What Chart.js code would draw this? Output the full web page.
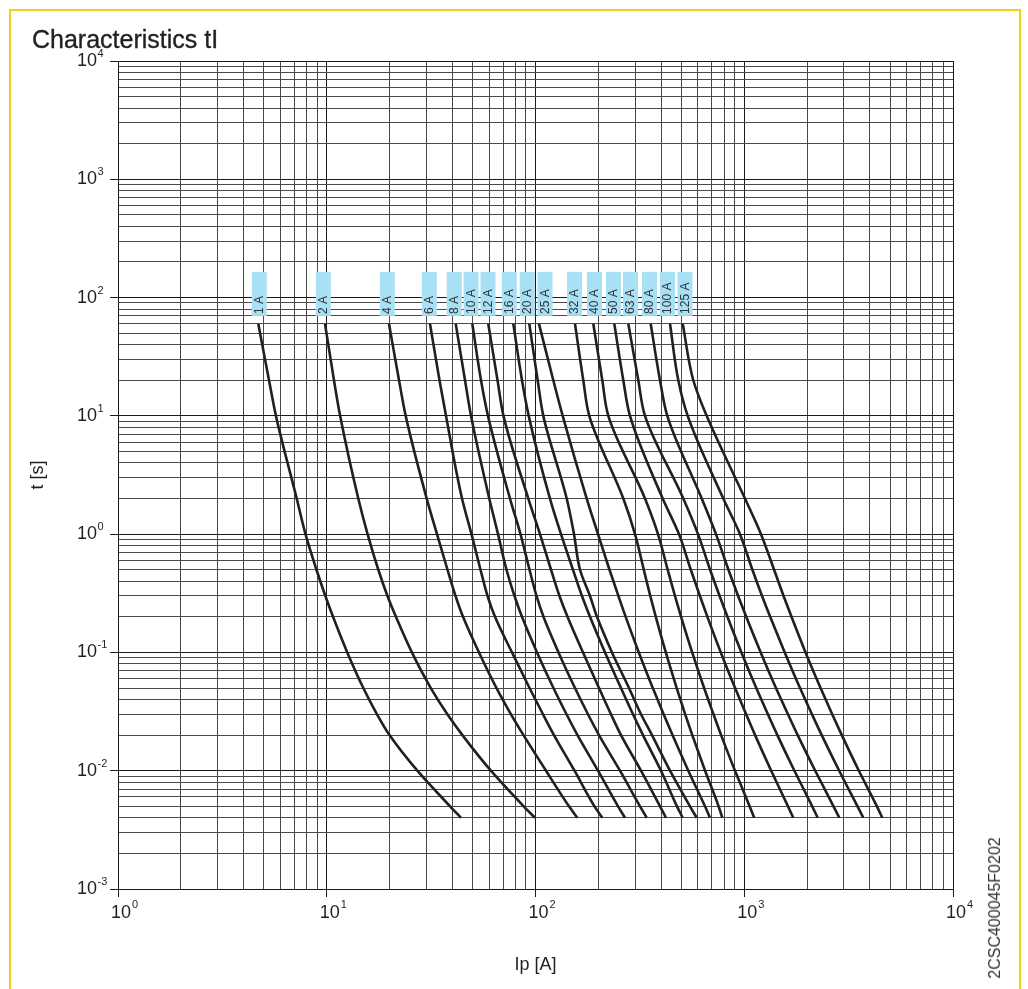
<!DOCTYPE html>
<html>
<head>
<meta charset="utf-8">
<script src="https://cdn.jsdelivr.net/npm/chart.js@4.4.1/dist/chart.umd.min.js"></script>
<style>
html,body{margin:0;padding:0;background:#fff;}
#wrap{position:relative;width:1028px;height:989px;overflow:hidden;background:#fff;}
#frame{position:absolute;left:9px;top:9px;width:1008px;height:1000px;border:2px solid #f5cf12;border-bottom:none;}
#title{position:absolute;left:32px;top:25px;font:25px "Liberation Sans",Arial,sans-serif;color:#231f20;white-space:nowrap;-webkit-text-stroke:0.35px #231f20;}
#code{position:absolute;left:995px;top:908px;transform:translate(-50%,-50%) rotate(-90deg);font:16px "Liberation Sans",Arial,sans-serif;color:#333;white-space:nowrap;}
canvas{position:absolute;left:0;top:0;}
</style>
</head>
<body>
<div id="wrap">
  <div id="frame"></div>
  <canvas id="c" width="1028" height="989"></canvas>
  <div id="title">Characteristics tI</div>
  <div id="code">2CSC400045F0202</div>
</div>
<script>
// ---- data (pre-arcing time t in s, prospective current Ip in A) ----
const tPoints = [60, 20, 10, 2, 1, 0.5, 0.3, 0.2, 0.1, 0.05, 0.03, 0.02, 0.01, 0.005, 0.004];

const fuseNames = ['1 A','2 A','4 A','6 A','8 A','10 A','12 A','16 A','20 A','25 A','32 A','40 A','50 A','63 A','80 A','100 A','125 A'];

const fuse1A   = [4.70, 5.29, 5.71, 7.18, 7.91, 8.93, 9.85, 10.72, 12.54, 14.97, 17.41, 19.98, 27.16, 38.99, 43.97];
const fuse2A   = [9.81, 10.83, 11.59, 14.16, 15.69, 17.66, 19.54, 21.45, 25.58, 31.51, 37.84, 44.66, 61.15, 87.80, 99.45];
const fuse4A   = [19.87, 22.19, 23.89, 30.12, 33.74, 37.88, 41.39, 44.96, 53.62, 65.06, 76.32, 87.59, 112.3, 144.7, 158.6];
const fuse6A   = [31.23, 34.68, 37.26, 44.46, 49.37, 54.52, 58.92, 63.97, 77.16, 93.61, 108.6, 122.6, 153.8, 191.7, 208.9];
const fuse8A   = [41.48, 45.95, 49.10, 60.05, 66.14, 72.62, 79.32, 86.16, 101.7, 121.9, 140.8, 158.9, 199.3, 248.5, 268.4];
const fuse10A  = [49.81, 54.82, 59.20, 75.47, 84.75, 93.61, 101.1, 109.2, 128.9, 154.6, 178.4, 201.5, 254.0, 316.7, 341.0];
const fuse12A  = [59.39, 65.77, 70.26, 92.38, 105.1, 118.7, 130.3, 142.3, 168.9, 201.5, 229.9, 256.8, 320.2, 394.8, 421.8];
const fuse16A  = [78.29, 86.16, 92.78, 117.3, 132.5, 151.2, 167.0, 182.4, 215.3, 256.8, 293.2, 327.3, 399.2, 476.2, 507.2];
const fuse20A  = [93.4, 102.4, 109.0, 141.1, 152.9, 163.4, 182.4, 197.1, 232.5, 280.5, 320.2, 361.5, 440.9, 549.6, 591.9];
const fuse25A  = [103.9, 121.7, 135.0, 175.9, 199.3, 226.2, 249.6, 270.4, 312.6, 364.7, 410.9, 453.2, 539.5, 648.6, 685.4];
const fuse32A  = [154.6, 169.4, 181.0, 263.4, 299.7, 330.2, 354.7, 377.0, 421.0, 474.7, 521.3, 563.7, 649.3, 753.6, 784.9];
const fuse40A  = [189.2, 208.9, 223.3, 334.6, 386.2, 429.8, 465.8, 498.3, 563.2, 642.3, 712.4, 774.7, 903.0, 1061, 1117];
const fuse50A  = [238.5, 263.4, 283.6, 406.7, 486.8, 554.6, 613.3, 666.1, 772.2, 904.0, 1021, 1127, 1346, 1620, 1718];
const fuse63A  = [278.4, 310.8, 334.6, 510.5, 600.3, 686.2, 762.0, 830.6, 969.2, 1142, 1298, 1441, 1739, 2116, 2248];
const fuse80A  = [356.3, 394.8, 427.9, 625.6, 732.0, 839.8, 934.6, 1022, 1199, 1419, 1620, 1803, 2188, 2676, 2853];
const fuse100A = [440.9, 483.1, 535.9, 793.6, 953.9, 1094, 1217, 1331, 1563, 1850, 2111, 2350, 2850, 3487, 3718];
const fuse125A = [507.2, 570.0, 660.9, 1008, 1203, 1390, 1543, 1684, 1966, 2321, 2638, 2933, 3541, 4321, 4585];

// current at which each rating tag sits, and the time band of the tags
const tagCurrents = [4.75, 9.63, 19.5, 31.0, 40.8, 49.1, 59.2, 74.9, 91.3, 111.1, 153.8, 191.7, 236.4, 285.2, 351.7, 428.9, 520.2];
const tagTimeTop = 165;
const tagTimeBottom = 70;

// axis decades
const xExpMin = 0, xExpMax = 4;
const yExpMin = -3, yExpMax = 4;

const fuseCurrents = [fuse1A, fuse2A, fuse4A, fuse6A, fuse8A, fuse10A, fuse12A, fuse16A, fuse20A, fuse25A,
                      fuse32A, fuse40A, fuse50A, fuse63A, fuse80A, fuse100A, fuse125A];

// ---- helpers ----
function logTicks(e0, e1) {
  const arr = [];
  for (let e = e0; e < e1; e++) {
    for (let m = 1; m < 10; m++) arr.push({ value: parseFloat((m * Math.pow(10, e)).toPrecision(6)) });
  }
  arr.push({ value: Math.pow(10, e1) });
  return arr;
}
function isDecade(v) {
  const l = Math.log10(v);
  return Math.abs(l - Math.round(l)) < 1e-6;
}
const FONT = '"Liberation Sans", Arial, sans-serif';
const INK = '#231f20';

const gridCfg = {
  color: c => (c.tick && isDecade(c.tick.value)) ? '#1a1a1a' : '#4a4a4a',
  lineWidth: 1,
  drawTicks: true,
  tickLength: 8,
  tickColor: c => (c.tick && isDecade(c.tick.value)) ? '#1a1a1a' : 'rgba(0,0,0,0)'
};

const datasets = fuseCurrents.map((arr, i) => ({
  label: fuseNames[i],
  data: arr.map((a, k) => ({ x: a, y: tPoints[k] })),
  indexAxis: 'y',
  borderColor: INK,
  borderWidth: 2.6,
  pointRadius: 0,
  fill: false,
  cubicInterpolationMode: 'monotone',
  borderCapStyle: 'butt',
  borderJoinStyle: 'round'
}));

const tickLabelPlugin = {
  id: 'tickLabels',
  afterDraw(chart) {
    const { ctx, scales: { x, y } } = chart;
    ctx.save();
    ctx.fillStyle = INK;
    ctx.textBaseline = 'alphabetic';
    for (let e = xExpMin; e <= xExpMax; e++) {
      const px = x.getPixelForValue(Math.pow(10, e));
      ctx.font = '18px ' + FONT; ctx.textAlign = 'right';
      ctx.fillText('10', px + 13, 918);
      ctx.font = '11px ' + FONT; ctx.textAlign = 'left';
      ctx.fillText(String(e), px + 14, 908);
    }
    for (let e = yExpMin; e <= yExpMax; e++) {
      const py = y.getPixelForValue(Math.pow(10, e));
      ctx.font = '18px ' + FONT; ctx.textAlign = 'right';
      ctx.fillText('10', 97, py + 5);
      ctx.font = '11px ' + FONT; ctx.textAlign = 'left';
      ctx.fillText(String(e), 97.5, py - 4);
    }
    ctx.restore();
  }
};

const tagPlugin = {
  id: 'ratingTags',
  afterDatasetsDraw(chart) {
    const { ctx, scales: { x, y } } = chart;
    const top = y.getPixelForValue(tagTimeTop);
    const bot = y.getPixelForValue(tagTimeBottom);
    ctx.save();
    tagCurrents.forEach((a, i) => {
      const cx = x.getPixelForValue(a);
      ctx.fillStyle = '#a8e0f6';
      ctx.fillRect(cx - 7.5, top, 15, bot - top);
      ctx.save();
      ctx.translate(cx, bot - 2);
      ctx.rotate(-Math.PI / 2);
      ctx.font = '12px ' + FONT;
      ctx.fillStyle = '#333';
      ctx.textAlign = 'left';
      ctx.textBaseline = 'middle';
      ctx.fillText(fuseNames[i], 0, 0.5);
      ctx.restore();
    });
    ctx.restore();
  }
};

new Chart(document.getElementById('c'), {
  type: 'line',
  data: { datasets },
  options: {
    responsive: false,
    animation: false,
    devicePixelRatio: 1,
    layout: { padding: { left: 10, right: 75, top: 61, bottom: 0 } },
    plugins: { legend: { display: false }, tooltip: { enabled: false }, title: { display: false } },
    scales: {
      x: {
        type: 'logarithmic',
        min: Math.pow(10, xExpMin), max: Math.pow(10, xExpMax),
        afterBuildTicks: s => { s.ticks = logTicks(xExpMin, xExpMax); },
        afterFit: s => { s.height = 100; },
        ticks: { display: false, autoSkip: false },
        grid: gridCfg,
        border: { display: true, color: '#1a1a1a', width: 1 },
        title: { display: true, text: 'Ip [A]', color: INK, font: { size: 18, family: FONT }, padding: { top: 0, bottom: 13 } }
      },
      y: {
        type: 'logarithmic',
        min: Math.pow(10, yExpMin), max: Math.pow(10, yExpMax),
        afterBuildTicks: s => { s.ticks = logTicks(yExpMin, yExpMax); },
        afterFit: s => { s.width = 108; },
        ticks: { display: false, autoSkip: false },
        grid: gridCfg,
        border: { display: true, color: '#1a1a1a', width: 1 },
        title: { display: true, text: 't [s]', color: INK, font: { size: 18, family: FONT }, padding: { top: 17, bottom: 0 } }
      }
    }
  },
  plugins: [tickLabelPlugin, tagPlugin]
});
</script>
</body>
</html>
